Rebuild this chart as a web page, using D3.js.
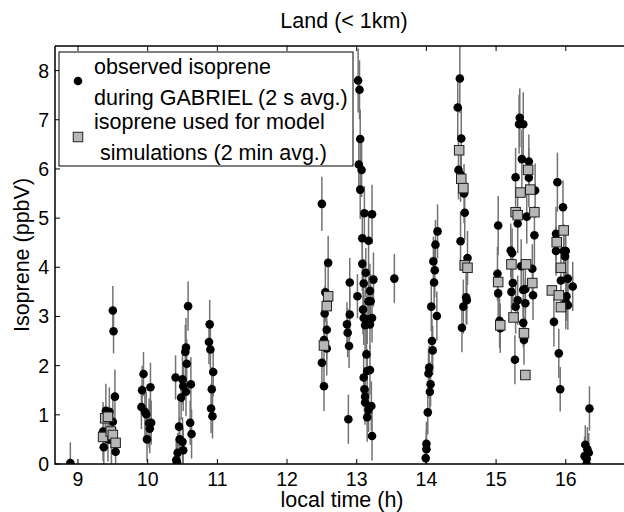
<!DOCTYPE html>
<html><head><meta charset="utf-8">
<script src="https://cdn.jsdelivr.net/npm/d3@7"></script>
<style>html,body{margin:0;padding:0;background:#fff;} svg{display:block;font-family:"Liberation Sans",Arial,sans-serif;}</style>
</head><body>
<svg id="c" width="624" height="512"></svg>
<script>
// observed isoprene (2 s avg.): [local time (h), value (ppbV), error]
const obsTime = [8.89,
 9.37,9.40,9.36,9.45,9.48,9.43,9.50,9.53,9.54,9.50,9.51,
 9.94,10.04,9.92,9.91,9.96,9.98,10.02,10.05,10.03,9.99,
 10.58,10.55,10.54,10.56,10.40,10.50,10.62,10.51,10.55,10.48,10.45,10.61,10.63,10.46,10.50,10.51,10.43,10.41,10.42,
 10.89,10.88,10.90,10.94,10.92,10.91,10.93,
 12.50,12.59,12.55,12.54,12.57,12.53,12.57,12.50,12.53,
 12.90,12.90,12.86,12.87,12.89,12.88,13.01,
 13.02,13.04,13.05,13.03,13.07,13.05,13.11,13.22,13.08,13.17,13.08,13.13,13.24,13.10,13.19,13.17,13.20,13.09,13.10,13.22,13.15,13.12,13.19,13.14,13.19,13.15,13.10,13.11,13.12,13.12,13.21,13.17,13.15,13.22,13.54,
 14.16,14.13,14.10,14.12,14.11,14.07,14.15,14.08,14.09,14.04,14.03,14.06,14.05,14.02,14.00,14.00,13.99,
 14.48,14.45,14.50,14.46,14.49,14.54,14.55,14.49,14.59,14.57,14.58,14.53,14.51,
 15.03,15.02,15.03,15.05,15.06,
 15.34,15.33,15.39,15.37,15.47,15.47,15.28,15.56,15.31,15.44,15.55,15.21,15.23,15.36,15.52,15.24,15.53,15.22,15.39,15.42,15.31,15.28,15.42,15.39,15.40,15.27,
 15.88,15.96,15.86,15.86,15.97,16.00,15.99,16.03,15.93,16.10,16.01,16.03,16.00,15.83,15.90,15.92,16.34,16.28,16.31,16.33,16.27,16.30,16.30];
const obsValue = [0.02,
 0.34,1.08,0.66,1.06,0.49,0.50,0.86,1.37,0.25,3.12,2.70,
 1.83,1.56,1.50,1.16,1.06,1.01,0.83,0.84,0.72,0.50,
 3.21,2.37,2.28,2.04,1.76,1.72,1.62,1.58,1.47,1.35,0.76,0.84,0.61,0.50,0.45,0.28,0.23,0.08,0.03,
 2.84,2.48,2.33,1.87,1.52,1.13,0.97,
 5.29,4.09,3.49,3.06,2.73,2.52,2.35,2.06,1.58,
 3.69,3.04,2.84,2.67,2.40,0.91,3.41,
 7.80,7.61,6.61,6.09,5.98,5.58,5.10,5.08,4.59,4.54,4.07,3.89,3.75,3.67,3.52,3.31,3.31,3.14,2.97,2.97,2.94,2.82,2.84,2.23,1.91,1.89,1.76,1.52,1.37,1.25,1.18,1.10,0.95,0.57,3.77,
 4.73,4.46,4.12,3.94,3.69,3.20,3.01,2.50,2.31,1.96,1.84,1.62,1.47,1.05,0.41,0.30,0.12,
 7.84,7.25,6.62,5.98,5.88,5.50,5.11,4.53,4.19,3.39,3.33,3.20,2.77,
 4.85,3.87,3.47,2.91,2.76,
 7.04,6.91,6.91,6.20,6.15,5.82,5.83,5.56,4.89,5.03,4.65,4.34,4.29,4.02,3.97,3.68,3.43,3.50,3.54,3.56,3.33,3.20,3.27,2.87,2.52,2.12,
 5.73,5.22,4.68,4.33,4.33,4.33,4.22,3.77,3.73,3.61,3.41,3.23,3.29,2.89,2.25,1.52,1.13,0.39,0.30,0.23,0.16,0.10,0.00];
const obsError = [0.42,
 0.50,0.55,0.60,0.50,0.55,0.45,0.50,0.55,0.50,0.50,0.45,
 0.45,0.50,0.50,0.45,0.50,0.45,0.50,0.45,0.50,0.45,
 0.50,0.60,0.55,0.50,0.45,0.50,0.55,0.50,0.50,0.45,0.50,0.45,0.50,0.45,0.50,0.45,0.40,0.45,0.40,
 0.50,0.45,0.50,0.50,0.45,0.50,0.45,
 0.55,0.55,0.60,0.55,0.60,0.50,0.55,0.50,0.50,
 0.50,0.50,0.45,0.50,0.45,0.50,0.45,
 0.65,0.60,0.60,0.60,0.55,0.60,0.55,0.60,0.55,0.60,0.55,0.50,0.55,0.50,0.55,0.50,0.55,0.50,0.55,0.50,0.50,0.55,0.50,0.50,0.50,0.45,0.50,0.45,0.50,0.45,0.50,0.45,0.50,0.50,0.50,
 0.55,0.50,0.50,0.55,0.50,0.50,0.50,0.45,0.50,0.45,0.50,0.45,0.50,0.45,0.45,0.40,0.40,
 0.70,0.60,0.60,0.60,0.55,0.60,0.55,0.60,0.55,0.55,0.50,0.55,0.50,
 0.60,0.55,0.50,0.55,0.50,
 0.60,0.60,0.65,0.60,0.55,0.60,0.60,0.55,0.60,0.55,0.60,0.55,0.50,0.55,0.50,0.55,0.50,0.50,0.55,0.50,0.50,0.55,0.50,0.50,0.50,0.50,
 0.60,0.55,0.55,0.50,0.55,0.50,0.55,0.50,0.55,0.50,0.50,0.50,0.55,0.50,0.50,0.45,0.45,0.40,0.45,0.40,0.40,0.35,0.30];
// isoprene used for model simulations (2 min avg.)
const modelTime = [9.36,9.39,9.43,9.47,9.50,9.54,
 12.59,12.57,12.53,
 14.47,14.50,14.53,14.55,14.59,
 15.03,15.06,
 15.46,15.35,15.49,15.28,15.31,15.55,15.22,15.43,15.52,15.25,15.40,15.42,
 15.97,15.87,15.93,15.80,15.90,15.93];
const modelValue = [0.55,0.93,0.96,0.66,0.59,0.43,
 3.41,3.21,2.41,
 6.38,5.80,5.61,4.04,3.99,
 3.70,2.82,
 5.98,5.52,5.58,5.12,5.06,5.12,4.06,4.06,3.68,2.98,2.66,1.81,
 4.75,4.51,3.99,3.53,3.43,3.19];
const xTicks = [9,10,11,12,13,14,15,16];
const yTicks = [0,1,2,3,4,5,6,7,8];
const titleText = "Land (< 1km)";
const xLabel = "local time (h)";
const yLabel = "Isoprene (ppbV)";
const legendLabels = [["observed isoprene","during GABRIEL (2 s avg.)"],["isoprene used for model"," simulations (2 min avg.)"]];

const svg = d3.select("#c");
const L=55, T=46, B=464, R=625;
const x = d3.scaleLinear().domain([8.67,16.85]).range([L,R]);
const y = d3.scaleLinear().domain([0,8.5]).range([B,T]);
const FT = 19.5, FL = 21.5;

svg.append("defs").append("clipPath").attr("id","clip").append("rect")
  .attr("x",L).attr("y",T).attr("width",R-L).attr("height",B-T);

const plot = svg.append("g").attr("clip-path","url(#clip)");
const obs = obsTime.map((t,i)=>({t, v:obsValue[i], e:obsError[i]}));
const mod = modelTime.map((t,i)=>({t, v:modelValue[i]}));

plot.selectAll("line.eb").data(obs).join("line").attr("class","eb")
  .attr("x1",d=>x(d.t)).attr("x2",d=>x(d.t))
  .attr("y1",d=>y(d.v-d.e)).attr("y2",d=>y(d.v+d.e))
  .attr("stroke","#737373").attr("stroke-width",1.5);
plot.selectAll("circle.ob").data(obs).join("circle").attr("class","ob")
  .attr("cx",d=>x(d.t)).attr("cy",d=>y(d.v)).attr("r",4.3).attr("fill","#000");
const S=9.5;
plot.selectAll("rect.md").data(mod).join("rect").attr("class","md")
  .attr("x",d=>x(d.t)-S/2).attr("y",d=>y(d.v)-S/2).attr("width",S).attr("height",S)
  .attr("fill","#b7b7b7").attr("stroke","#222").attr("stroke-width",1);

// axes (MATLAB-style inner ticks, box)
const ax = svg.append("g");
const tl = 5;
xTicks.forEach(t=>{
  ax.append("line").attr("x1",x(t)).attr("x2",x(t)).attr("y1",B).attr("y2",B-tl).attr("stroke","#000");
  ax.append("line").attr("x1",x(t)).attr("x2",x(t)).attr("y1",T).attr("y2",T+tl).attr("stroke","#000");
  ax.append("text").attr("x",x(t)).attr("y",B+22).attr("text-anchor","middle").attr("font-size",FT).text(t);
});
yTicks.forEach(t=>{
  ax.append("line").attr("x1",L).attr("x2",L+tl).attr("y1",y(t)).attr("y2",y(t)).attr("stroke","#000");
  ax.append("text").attr("x",L-6).attr("y",y(t)+7).attr("text-anchor","end").attr("font-size",FT).text(t);
});
ax.append("path").attr("d",`M${L},${T}H${R+10}M${L},${T}V${B}H${R+10}`)
  .attr("fill","none").attr("stroke","#000").attr("stroke-width",1.5);

svg.append("text").attr("x",344).attr("y",28).attr("text-anchor","middle").attr("font-size",FL).text(titleText);
svg.append("text").attr("x",342).attr("y",507).attr("text-anchor","middle").attr("font-size",FL).text(xLabel);
svg.append("text").attr("transform","translate(29,255) rotate(-90)").attr("text-anchor","middle").attr("font-size",FL).text(yLabel);

// legend
const lg = svg.append("g");
lg.append("rect").attr("x",59).attr("y",52).attr("width",294).attr("height",114)
  .attr("fill","#fff").attr("stroke","#000").attr("stroke-width",1);
lg.append("circle").attr("cx",78).attr("cy",81).attr("r",4.3).attr("fill","#000");
lg.append("rect").attr("x",78-S/2).attr("y",137-S/2).attr("width",S).attr("height",S)
  .attr("fill","#b7b7b7").attr("stroke","#222");
lg.append("text").attr("x",94).attr("y",74).attr("font-size",FL).text(legendLabels[0][0]);
lg.append("text").attr("x",94).attr("y",105).attr("font-size",FL).text(legendLabels[0][1]);
lg.append("text").attr("x",94).attr("y",129).attr("font-size",FL).text(legendLabels[1][0]);
lg.append("text").attr("x",94).attr("y",160).attr("font-size",FL).style("white-space","pre").text(legendLabels[1][1]);
</script>
</body></html>
